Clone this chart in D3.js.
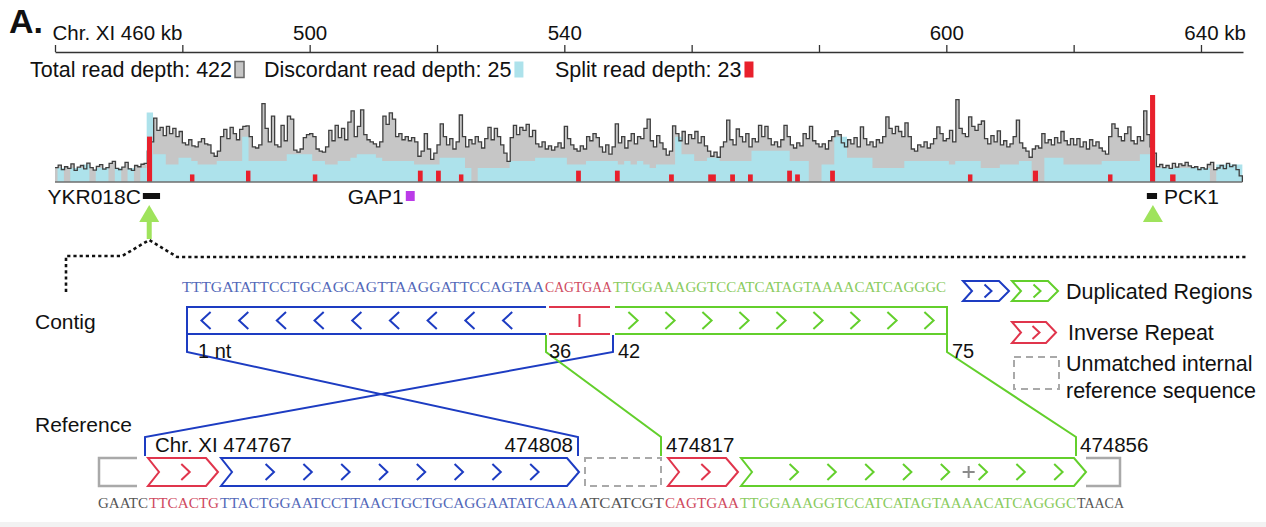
<!DOCTYPE html>
<html>
<head>
<meta charset="utf-8">
<script src="https://cdn.jsdelivr.net/npm/d3@7"></script>
<style>
  body { margin: 0; background: #fff; }
  svg { display: block; }
  text { font-family: "Liberation Sans", Arial, Helvetica, sans-serif; fill: #111; }
  text.seq { font-family: "Liberation Serif", "Times New Roman", serif; }
</style>
</head>
<body>
<svg id="chart" width="1266" height="527"></svg>
<script>
// ---------------- data ----------------
// genomic axis (kb on chromosome XI)
const axisTicksKb = [460, 480, 500, 520, 540, 560, 580, 600, 620, 640];
const axisTickLabels = ["Chr. XI 460 kb", "", "500", "", "540", "", "", "600", "", "640 kb"];

// read-depth tracks and their scale maxima
const trackNames = ["Total read depth", "Discordant read depth", "Split read depth"];
const trackMax = [422, 25, 23];

// total read depth, 0.5 kb bins from 460 kb
const totalStartKb = 460, totalBinKb = 0.5;
const totalDepth = [
  70, 82, 60, 74, 66, 88, 56, 72, 80, 64, 92, 70, 58, 76, 84, 62, 70, 90, 100, 66,
  60, 72, 95, 64, 56, 80, 74, 86, 90, 150, 195, 310, 250, 265, 225, 270, 235, 260, 220, 245,
  190, 180, 205, 175, 170, 195, 210, 185, 180, 140, 125, 150, 220, 255, 210, 265, 235, 205, 255, 270,
  272, 220, 170, 165, 180, 380, 260, 195, 320, 180, 170, 275, 200, 320, 305, 155, 145, 160, 215, 230,
  235, 220, 160, 150, 145, 170, 250, 200, 275, 215, 260, 205, 290, 345, 220, 270, 350, 230, 205, 195,
  185, 170, 195, 320, 280, 335, 305, 220, 235, 205, 220, 200, 215, 195, 125, 150, 235, 160, 110, 140,
  180, 282, 220, 180, 210, 160, 195, 325, 220, 170, 205, 185, 220, 195, 165, 210, 265, 205, 260, 220,
  180, 140, 100, 215, 275, 230, 265, 250, 280, 220, 250, 185, 170, 195, 160, 175, 155, 170, 190, 165,
  270, 210, 180, 160, 150, 175, 160, 220, 200, 235, 215, 170, 145, 180, 135, 170, 282, 190, 220, 165,
  200, 235, 185, 220, 210, 260, 305, 200, 170, 225, 190, 160, 130, 150, 272, 235, 200, 245, 185, 230,
  210, 245, 190, 220, 175, 150, 125, 145, 120, 170, 195, 300, 205, 180, 257, 220, 195, 235, 170, 210,
  195, 275, 220, 270, 210, 180, 195, 170, 205, 275, 220, 180, 165, 190, 175, 235, 210, 270, 200, 185,
  170, 185, 160, 200, 220, 248, 230, 190, 170, 205, 185, 215, 170, 267, 210, 180, 195, 170, 205, 190,
  220, 316, 260, 235, 270, 245, 220, 287, 220, 160, 150, 180, 170, 195, 165, 185, 210, 267, 235, 200,
  210, 250, 195, 400, 260, 235, 220, 316, 270, 250, 280, 296, 210, 185, 225, 195, 248, 180, 200, 170,
  185, 220, 300, 190, 165, 150, 120, 160, 175, 165, 235, 190, 205, 180, 215, 190, 245, 200, 180, 210,
  180, 210, 170, 195, 160, 205, 175, 195, 165, 150, 135, 220, 282, 260, 220, 200, 235, 267, 200, 185,
  220, 200, 345, 230, 170, 140, 75, 85, 70, 80, 66, 90, 72, 88, 80, 95, 78, 70, 74, 60,
  70, 62, 85, 95, 60, 68, 80, 65, 90, 75, 82, 60, 30
];

// discordant read depth, 1 kb bins
const discStartKb = 460.4, discBinKb = 1;
const discordantDepth = [
  4, 0, 4, 4, 5, 0, 4, 4, 0, 4, 0, 4, 0, 4, 20,
  8, 8, 5, 5, 7, 7, 6, 5, 5, 5, 6, 6, 6, 6, 13,
  6, 6, 6, 6, 6, 6, 8, 8, 8, 8, 6, 6, 5, 5, 6, 6, 7,
  8, 8, 8, 7, 6, 6, 6, 6, 6, 5, 5, 5, 5, 7, 7, 7, 7, 4, 0, 4, 4, 4, 4, 4,
  6, 6, 6, 6, 7, 7, 7, 7, 7, 5, 5, 5, 6, 6, 6, 6, 6, 5, 6, 5, 6, 5,
  4, 5, 5, 5, 13, 8, 8, 6, 6, 7, 7, 6, 6, 6, 6, 6, 9, 9, 9, 9, 9, 9, 6, 6,
  6, 0, 0, 5, 5, 13, 13, 7, 7, 7, 7, 4, 4, 4, 4, 4, 6, 6, 6, 6, 6, 6, 6,
  5, 6, 6, 6, 6, 4, 4, 4, 5, 5, 5, 6, 6, 0, 0, 7, 7, 7, 5, 5, 5, 5, 5, 5,
  6, 6, 6, 6, 6, 6, 8, 8, 4, 4, 4, 4, 4, 4, 4, 4, 4, 0, 5, 5, 5, 5, 5
];

// split reads: bins with start / end (kb) and depth
const splitStartKb = [474.45, 481.2, 490.0, 500.5, 517.0, 519.85, 523.45, 541.85, 547.95, 556.45, 562.6,
                      566.05, 568.85, 575.0, 576.25, 581.75, 603.4, 613.6, 625.4, 632.0, 635.15];
const splitEndKb   = [475.25, 481.9, 490.7, 501.2, 517.75, 520.6, 524.15, 542.6, 548.7, 557.2, 563.8,
                      566.8, 569.6, 575.75, 577.0, 582.5, 604.1, 614.4, 626.1, 632.8, 636.0];
const splitDepth   = [12, 2, 3, 2, 3, 3, 2, 3, 3, 2, 2, 2, 2, 3, 2, 3, 2, 3, 2, 23, 2];

// annotated genes
const geneNames   = ["YKR018C", "GAP1", "PCK1"];
const geneStartKb = [473.8, 515.1, 631.5];
const geneEndKb   = [476.5, 516.5, 633.1];

// breakpoints (green arrows); the first one is expanded below
const breakpointKb = [474.8, 632.45];

// assembled contig, split into its aligned parts
const contigSeq   = ["TTTGATATTCCTGCAGCAGTTAAGGATTCCAGTAA", "CAGTGAA", "TTGGAAAGGTCCATCATAGTAAAACATCAGGGC"];
const contigKinds = ["dupA", "inv", "dupB"];

// reference sequence around the junction
const refSeq   = ["GAATC", "TTCACTG", "TTACTGGAATCCTTAACTGCTGCAGGAATATCAAA", "ATCATCGT",
                  "CAGTGAA", "TTGGAAAGGTCCATCATAGTAAAACATCAGGGC", "TAACA"];
const refKinds = ["flankL", "inv", "dupA", "gap", "inv", "dupB", "flankR"];
const refFirstCoord = 474762;       // coordinate of the first reference base shown
const refInsertCoord = [474846];     // base difference marked with "+"

// contig -> reference alignment ends
const alignContigNt = [1, 42, 36, 75];
const alignRefCoord = [474808, 474767, 474817, 474856];
const alignKind     = ["dupA", "dupA", "dupB", "dupB"];
const contigMarkLabels = ["1 nt", "42", "36", "75"];

// legend entries
const legendLabels = ["Duplicated Regions", "Inverse Repeat", "Unmatched internal|reference sequence"];

// ---------------- styles ----------------
const C = {
  grey: "#c6c6c6", greyLine: "#3f3f3f", cyan: "#ade2eb", red: "#e8202c",
  blue: "#1d3cc2", green: "#63cf2c", inv: "#e0354c", flank: "#a9a9a9",
  seqBlue: "#5368b9", seqRed: "#cf4a60", seqGreen: "#8acb5e", seqGrey: "#555",
  arrow: "#9fe35c", gap1: "#bb3be8"
};
const kindStroke = { dupA: C.blue, dupB: C.green, inv: C.inv, flankL: C.flank, flankR: C.flank, gap: C.flank };
const kindText = { dupA: C.seqBlue, dupB: C.seqGreen, inv: C.seqRed, flankL: C.seqGrey, flankR: C.seqGrey, gap: C.seqGrey };

const svg = d3.select("#chart");
svg.append("rect").attr("width", 1266).attr("height", 527).attr("fill", "#fff");

// panel letter
svg.append("text").attr("x", 9).attr("y", 33).attr("font-size", 34).attr("font-weight", "bold").text("A.");

// ---------------- genomic axis ----------------
const x = d3.scaleLinear().domain([460, 646.6]).range([55, 1243]);
const axisG = svg.append("g").attr("transform", "translate(0,52)")
  .call(d3.axisTop(x).tickValues(axisTicksKb).tickSize(7).tickSizeOuter(0).tickPadding(5)
    .tickFormat((d, i) => axisTickLabels[i]));
axisG.attr("font-size", 20.5);
axisG.select(".domain").attr("stroke", "#333").attr("stroke-width", 1.3);
axisG.selectAll(".tick line").attr("stroke", "#333").attr("stroke-width", 1.3);
axisG.selectAll(".tick text").attr("fill", "#111");
const tickTexts = axisG.selectAll(".tick text").nodes();
d3.select(tickTexts[0]).attr("text-anchor", "start").attr("x", -3);
{
  // keep the number of the last label centred on its tick
  const last = d3.select(tickTexts[tickTexts.length - 1]);
  const full = last.text();
  const num = full.split(" ")[0];
  last.text(num);
  const w = last.node().getComputedTextLength();
  last.text(full).attr("text-anchor", "start").attr("x", -w / 2);
}

// ---------------- legend row ----------------
{
  const swatch = [{ fill: C.grey, stroke: "#666" }, { fill: C.cyan, stroke: "none" }, { fill: C.red, stroke: "none" }];
  const legendX = [30, 264, 555];
  trackNames.forEach((name, i) => {
    const t = svg.append("text").attr("x", legendX[i]).attr("y", 77).attr("font-size", 21.5).text(`${name}: ${trackMax[i]}`);
    const w = t.node().getComputedTextLength();
    svg.append("rect").attr("x", legendX[i] + w + 3).attr("y", 61.5).attr("width", 9).attr("height", 16)
      .attr("fill", swatch[i].fill).attr("stroke", swatch[i].stroke).attr("stroke-width", 1.5);
  });
}

// ---------------- read-depth tracks ----------------
const yBase = 182, yTop = 95;
const yTot = d3.scaleLinear().domain([0, trackMax[0]]).range([yBase, yTop]);
const yDis = d3.scaleLinear().domain([0, trackMax[1]]).range([yBase, yTop]);
const ySpl = d3.scaleLinear().domain([0, trackMax[2]]).range([yBase, yTop]);
const trackEndKb = totalStartKb + totalDepth.length * totalBinKb;

const totPts = totalDepth.map((v, i) => ({ kb: totalStartKb + i * totalBinKb, v }));
totPts.push({ kb: trackEndKb, v: 0 });
const disPts = discordantDepth.map((v, i) => ({ kb: discStartKb + i * discBinKb, v }))
  .filter(d => d.kb < trackEndKb);
disPts.push({ kb: trackEndKb, v: 0 });

const track = svg.append("g");
track.append("path").datum(totPts)
  .attr("d", d3.area().x(d => x(d.kb)).y0(yBase).y1(d => yTot(d.v)).curve(d3.curveStepAfter))
  .attr("fill", C.grey);
track.append("path").datum(disPts)
  .attr("d", d3.area().x(d => x(d.kb)).y0(yBase).y1(d => yDis(d.v)).curve(d3.curveStepAfter))
  .attr("fill", C.cyan);
track.append("path").datum(totPts)
  .attr("d", d3.line().x(d => x(d.kb)).y(d => yTot(d.v)).curve(d3.curveStepAfter))
  .attr("fill", "none").attr("stroke", C.greyLine).attr("stroke-width", 1.3);
track.selectAll("rect.split").data(splitDepth).join("rect").attr("class", "split")
  .attr("x", (d, i) => x(splitStartKb[i]))
  .attr("width", (d, i) => x(splitEndKb[i]) - x(splitStartKb[i]))
  .attr("y", d => ySpl(d)).attr("height", d => yBase - ySpl(d))
  .attr("fill", C.red);
track.append("line").attr("x1", x(totalStartKb)).attr("x2", x(trackEndKb)).attr("y1", yBase).attr("y2", yBase)
  .attr("stroke", "#6e6e6e").attr("stroke-width", 1.6);

// ---------------- genes ----------------
const geneStyle = {
  YKR018C: { fill: "#111", y: 193, h: 6, side: "left" },
  GAP1: { fill: C.gap1, y: 191, h: 10, side: "left" },
  PCK1: { fill: "#111", y: 193, h: 6, side: "right" }
};
geneNames.forEach((g, i) => {
  const s = geneStyle[g];
  const x0 = x(geneStartKb[i]), x1 = x(geneEndKb[i]);
  svg.append("rect").attr("x", x0).attr("y", s.y).attr("width", x1 - x0).attr("height", s.h).attr("fill", s.fill);
  svg.append("text").attr("font-size", 21).attr("y", 204)
    .attr("x", s.side === "left" ? x0 - 2 : x1 + 7)
    .attr("text-anchor", s.side === "left" ? "end" : "start").text(g);
});

// breakpoint arrows
breakpointKb.forEach((kb, i) => {
  const cx = x(kb);
  svg.append("path").attr("d", `M${cx},205L${cx + 10},222L${cx - 10},222Z`).attr("fill", C.arrow);
  if (i === 0) svg.append("rect").attr("x", cx - 2.5).attr("y", 221).attr("width", 5).attr("height", 18).attr("fill", C.arrow);
});

// dotted zoom connector from the expanded breakpoint
{
  const cx = x(breakpointKb[0]);
  svg.append("path")
    .attr("d", `M66,292V256H${cx - 27}L${cx},240L${cx + 28},257H1246`)
    .attr("fill", "none").attr("stroke", "#111").attr("stroke-width", 2.6).attr("stroke-dasharray", "3.2,3");
}

// ---------------- helpers ----------------
function chevron(g, cx, cy, dir, color, w = 4.2, h = 8) {
  const d = dir > 0
    ? `M${cx - w},${cy - h}L${cx + w},${cy}L${cx - w},${cy + h}`
    : `M${cx + w},${cy - h}L${cx - w},${cy}L${cx + w},${cy + h}`;
  g.append("path").attr("d", d).attr("fill", "none").attr("stroke", color).attr("stroke-width", 2);
}
function blockPath(a, b, y0, y1, notch, tip) {
  const ym = (y0 + y1) / 2;
  return `M${a},${y0}H${b - tip}L${b},${ym}L${b - tip},${y1}H${a}L${a + notch},${ym}Z`;
}
function cumulative(parts) {
  const out = [0];
  parts.forEach(s => out.push(out[out.length - 1] + s.length));
  return out;
}

// ---------------- contig ----------------
svg.append("text").attr("x", 35).attr("y", 329).attr("font-size", 21).text("Contig");
const cB = cumulative(contigSeq);
const xC = d3.scaleLinear().domain(cB).range([182, 545, 613, 947]);
const contigG = svg.append("g");
contigSeq.forEach((s, k) => {
  contigG.append("text").attr("class", "seq").attr("x", xC(cB[k])).attr("y", 292).attr("font-size", 15)
    .attr("textLength", xC(cB[k + 1]) - xC(cB[k]) - 1).attr("lengthAdjust", "spacingAndGlyphs")
    .style("fill", kindText[contigKinds[k]]).text(s);
});
{
  const y0 = 307, y1 = 334, ym = (y0 + y1) / 2;
  // part 1: reverse-oriented duplicated region
  const a1 = xC(cB[0]) + 5, b1 = xC(cB[1]) + 1;
  contigG.append("path").attr("d", `M${b1},${y0}H${a1}V${y1}H${b1}`)
    .attr("fill", "none").attr("stroke", C.blue).attr("stroke-width", 2);
  for (let cx = a1 + 19; cx < b1 - 25; cx += 37.7) chevron(contigG, cx, ym, -1, C.blue, 4.6, 8.5);
  // part 2: inverse repeat
  const a2 = xC(cB[1]) + 4, b2 = xC(cB[2]) - 3;
  contigG.append("path").attr("d", `M${a2},${y0}H${b2}M${a2},${y1}H${b2}M${(a2 + b2) / 2},${y0 + 7}V${y1 - 7}`)
    .attr("fill", "none").attr("stroke", C.inv).attr("stroke-width", 2);
  // part 3: forward duplicated region
  const a3 = xC(cB[2]) + 2, b3 = xC(cB[3]);
  contigG.append("path").attr("d", `M${a3},${y0}H${b3}V${y1}H${a3}`)
    .attr("fill", "none").attr("stroke", C.green).attr("stroke-width", 2);
  for (let cx = a3 + 18; cx < b3 - 10; cx += 37) chevron(contigG, cx, ym, 1, C.green, 4.6, 8.5);
}

// ---------------- reference ----------------
svg.append("text").attr("x", 35).attr("y", 432).attr("font-size", 21).text("Reference");
const rB = cumulative(refSeq);
const xR = d3.scaleLinear().domain(rB).range([98, 149, 220, 579, 665, 740, 1077, 1125]);
const refG = svg.append("g");
refSeq.forEach((s, k) => {
  refG.append("text").attr("class", "seq").attr("x", xR(rB[k])).attr("y", 508).attr("font-size", 15)
    .attr("textLength", xR(rB[k + 1]) - xR(rB[k]) - 1).attr("lengthAdjust", "spacingAndGlyphs")
    .style("fill", kindText[refKinds[k]]).text(s);
});
{
  const y0 = 458, y1 = 486, ym = (y0 + y1) / 2;
  const step = 37.8;
  refKinds.forEach((kind, k) => {
    const L = xR(rB[k]), R = xR(rB[k + 1]);
    const col = kindStroke[kind];
    if (kind === "flankL") {
      refG.append("path").attr("d", `M${R - 12},${y0}H${L + 1}V${y1}H${R - 12}`)
        .attr("fill", "none").attr("stroke", col).attr("stroke-width", 2.5);
    } else if (kind === "flankR") {
      const a = xR(rB[k]) + 9;
      refG.append("path").attr("d", `M${a},${y0}H${R - 5}V${y1}H${a}`)
        .attr("fill", "none").attr("stroke", col).attr("stroke-width", 2.5);
    } else if (kind === "gap") {
      refG.append("rect").attr("x", L + 6).attr("y", y0).attr("width", R - L - 10).attr("height", y1 - y0)
        .attr("fill", "none").attr("stroke", col).attr("stroke-width", 2).attr("stroke-dasharray", "7,5");
    } else {
      const a = kind === "inv" ? (k === 1 ? L - 1 : L + 3) : L + 1;
      const b = kind === "dupB" ? R + 9 : (kind === "inv" ? R - 2 : R);
      const notch = 11, tip = 12;
      refG.append("path").attr("d", blockPath(a, b, y0, y1, notch, tip))
        .attr("fill", "none").attr("stroke", col).attr("stroke-width", 2).attr("stroke-linejoin", "miter");
      const from = a + notch, to = b - tip;
      const n = Math.floor((to - from - 5) / step);
      if (n <= 1) chevron(refG, (from + to) / 2 + 3, ym, 1, col);
      else for (let j = 1; j <= n; j++) chevron(refG, from + j * step + (kind === "dupB" ? 4 : 0), ym, 1, col);
    }
  });
  // base differences inside the alignment
  refInsertCoord.forEach(c => {
    const cx = xR(c - refFirstCoord) + 4;
    refG.append("path").attr("d", `M${cx - 6},${ym}H${cx + 6}M${cx},${ym - 6}V${ym + 6}`)
      .attr("stroke", "#8a8a8a").attr("stroke-width", 2);
  });
}

// ---------------- alignment connectors ----------------
{
  const cTop = 335, cBot = 352, rTop = 437, rBot = 456;
  alignContigNt.forEach((nt, i) => {
    const col = kindStroke[alignKind[i]];
    // contig side: starts mark the left edge of the base, ends its right edge
    const isStart = (nt === 1 || nt === 36);
    const cx = isStart ? (nt === 1 ? xC(nt - 1) + 5 : xC(nt - 1) + 1) : xC(nt);
    const coord = alignRefCoord[i];
    const refIsStart = (coord === 474767 || coord === 474817);
    const idx = coord - refFirstCoord;
    const rx = refIsStart ? xR(idx) - 4 : xR(idx + 1) - 1;
    svg.append("path").attr("d", `M${cx},${cTop}V${cBot}L${rx},${rTop}V${rBot}`)
      .attr("fill", "none").attr("stroke", col).attr("stroke-width", 2);
    svg.append("text").attr("font-size", 20).attr("y", 358)
      .attr("x", cx + (nt === 1 ? 11 : nt === 36 ? 3 : 5)).text(contigMarkLabels[i]);
    const lab = coord === 474767 ? `Chr. XI ${coord}` : `${coord}`;
    svg.append("text").attr("font-size", 20.5).attr("y", 452)
      .attr("x", refIsStart ? rx + (coord === 474767 ? 10 : 5) : (coord === 474808 ? rx - 5 : rx + 4))
      .attr("text-anchor", coord === 474808 ? "end" : "start").text(lab);
  });
}

// ---------------- legend (right) ----------------
{
  const lg = svg.append("g");
  lg.append("path").attr("d", blockPath(963, 1009, 281, 301, 9, 10)).attr("fill", "none").attr("stroke", C.blue).attr("stroke-width", 2);
  chevron(lg, 988, 291, 1, C.blue, 3.5, 6.5);
  lg.append("path").attr("d", blockPath(1012, 1058, 281, 301, 9, 10)).attr("fill", "none").attr("stroke", C.green).attr("stroke-width", 2);
  chevron(lg, 1037, 291, 1, C.green, 3.5, 6.5);
  lg.append("text").attr("x", 1066).attr("y", 299).attr("font-size", 21.5).text(legendLabels[0]);

  lg.append("path").attr("d", blockPath(1012, 1056, 322, 343, 9, 10)).attr("fill", "none").attr("stroke", C.inv).attr("stroke-width", 2);
  chevron(lg, 1036, 332.5, 1, C.inv, 3.5, 6.5);
  lg.append("text").attr("x", 1068).attr("y", 340).attr("font-size", 21.5).text(legendLabels[1]);

  lg.append("rect").attr("x", 1014).attr("y", 357).attr("width", 45).attr("height", 32)
    .attr("fill", "none").attr("stroke", C.flank).attr("stroke-width", 2).attr("stroke-dasharray", "7,5");
  legendLabels[2].split("|").forEach((line, i) => {
    lg.append("text").attr("x", 1066).attr("y", 371 + i * 27).attr("font-size", 21.5).text(line);
  });
}

// faint band along the bottom edge
svg.append("rect").attr("x", 0).attr("y", 522).attr("width", 1266).attr("height", 5).attr("fill", "#f2f2f2");
</script>
</body>
</html>
